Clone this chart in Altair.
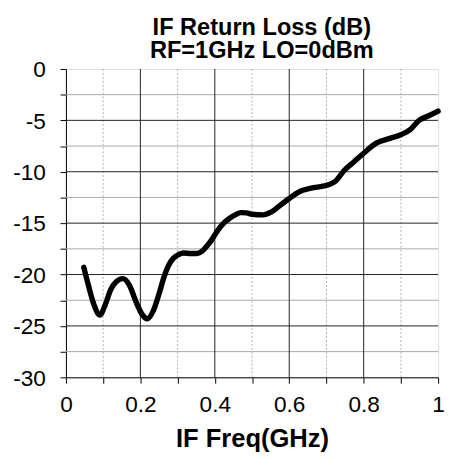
import altair as alt
import pandas as pd

freq = [0.048, 0.06, 0.075, 0.091, 0.105, 0.12, 0.135, 0.153, 0.17, 0.19,
        0.205, 0.219, 0.235, 0.25, 0.263, 0.276, 0.289, 0.303, 0.316, 0.335,
        0.351, 0.365, 0.377, 0.392, 0.408, 0.424, 0.439, 0.455, 0.47, 0.485,
        0.5, 0.531, 0.55, 0.571, 0.6, 0.624, 0.659, 0.69, 0.707, 0.725,
        0.747, 0.775, 0.8, 0.835, 0.87, 0.9, 0.925, 0.949, 0.975, 1.0]
loss = [-19.3, -21.0, -22.9, -23.95, -23.0, -21.5, -20.7, -20.4, -21.0, -22.8,
        -23.9, -24.3, -23.5, -21.9, -20.3, -19.1, -18.4, -18.05, -17.9, -17.95,
        -17.95, -17.75, -17.3, -16.6, -15.7, -15.0, -14.55, -14.2, -13.98, -14.0,
        -14.14, -14.2, -13.95, -13.4, -12.6, -12.0, -11.6, -11.4, -11.25, -10.9,
        -9.9, -9.0, -8.2, -7.2, -6.75, -6.4, -5.9, -5.0, -4.55, -4.1]

x_ticks = [0, 0.1, 0.2, 0.3, 0.4, 0.5, 0.6, 0.7, 0.8, 0.9, 1]
y_ticks = [0, -2.5, -5, -7.5, -10, -12.5, -15, -17.5, -20, -22.5, -25, -27.5, -30]
x_major = [0.2, 0.4, 0.6, 0.8]
x_minor = [0.1, 0.3, 0.5, 0.7, 0.9]
y_major = [-5, -10, -15, -20, -25]
y_minor = [-2.5, -7.5, -12.5, -17.5, -22.5, -27.5]

FONT = "Liberation Sans"

xax = alt.Axis(values=x_ticks, title="IF Freq(GHz)", grid=False,
               labelExpr="round(datum.value*10) % 2 == 0 ? '' + datum.value : ''",
               tickSize=6, tickColor="black", domainColor="black",
               labelFontSize=23, labelFont=FONT, labelColor="black", labelPadding=11,
               labelFlush=False, labelOverlap=False,
               titleFontSize=26, titleFont=FONT, titleFontWeight="bold",
               titleColor="black", titlePadding=9)
yax = alt.Axis(values=y_ticks, title=None, grid=False,
               labelExpr="datum.value % 5 == 0 ? '' + datum.value : ''",
               tickSize=6, tickColor="black", domainColor="black",
               labelFontSize=23, labelFont=FONT, labelColor="black", labelPadding=15,
               labelFlush=False, labelOverlap=False, labelOffset=1)

xs = alt.Scale(domain=[0, 1], nice=False, zero=False)
ys = alt.Scale(domain=[-30, 0], nice=False, zero=False)

curve = pd.DataFrame({"f": freq, "rl": loss})

minor_x = alt.Chart(pd.DataFrame({"f": x_minor})).mark_rule(
    color="#b0b0b0", strokeWidth=1, strokeDash=[2, 2]
).encode(x=alt.X("f:Q", scale=xs, axis=xax))

minor_y = alt.Chart(pd.DataFrame({"rl": y_minor})).mark_rule(
    color="#a8a8a8", strokeWidth=1
).encode(y=alt.Y("rl:Q", scale=ys, axis=yax))

major_x = alt.Chart(pd.DataFrame({"f": x_major})).mark_rule(
    color="#222222", strokeWidth=1
).encode(x=alt.X("f:Q", scale=xs, axis=xax))

major_y = alt.Chart(pd.DataFrame({"rl": y_major})).mark_rule(
    color="#222222", strokeWidth=1
).encode(y=alt.Y("rl:Q", scale=ys, axis=yax))

line = alt.Chart(curve).mark_line(
    color="black", strokeWidth=5.5, interpolate="monotone", strokeCap="round"
).encode(x=alt.X("f:Q", scale=xs, axis=xax), y=alt.Y("rl:Q", scale=ys, axis=yax))

chart = alt.layer(minor_x, minor_y, major_x, major_y, line).properties(
    width=379, height=314,
    autosize=alt.AutoSizeParams(type="none"),
    padding={"left": 59, "top": 58, "right": 6, "bottom": 73},
    title=alt.Title(["IF Return Loss (dB)", "RF=1GHz LO=0dBm"], fontSize=24,
                    font=FONT, fontWeight="bold", lineHeight=24, color="black",
                    anchor="middle", frame="group", dx=10, offset=-4),
).configure_view(stroke="black", strokeWidth=1).configure(background="white")

chart.save("out.html", embed_options={"renderer": "svg", "actions": False})
